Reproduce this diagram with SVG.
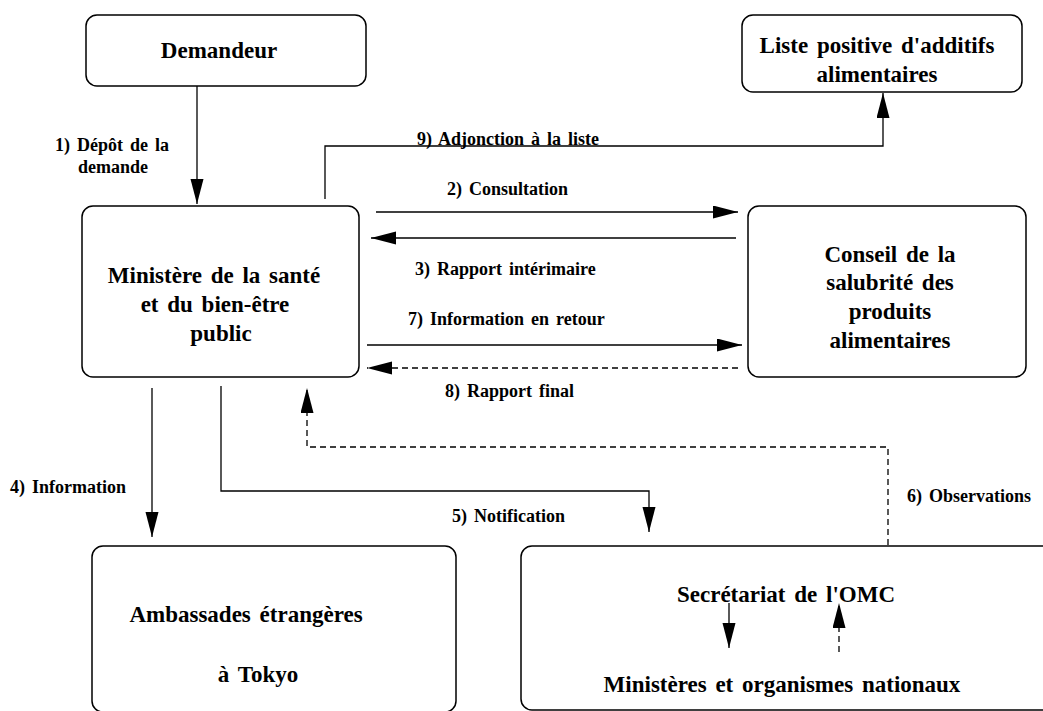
<svg xmlns="http://www.w3.org/2000/svg" width="1043" height="711" viewBox="0 0 1043 711">
<defs>
<style>
.box{fill:#fff;stroke:#000;stroke-width:1.5}
.n{font-family:"Liberation Serif","Times New Roman",serif;font-weight:bold;font-size:23px;word-spacing:3px;fill:#000}
.l{font-family:"Liberation Serif","Times New Roman",serif;font-weight:bold;font-size:18px;word-spacing:2.5px;fill:#000}
.c{fill:none;stroke:#000;stroke-width:1.3}
.d{stroke-dasharray:6,4}
</style>
<marker id="ah" markerUnits="userSpaceOnUse" markerWidth="26" markerHeight="14" refX="25" refY="6.5" orient="auto">
<path d="M0,0 L25,6.5 L0,13 z" fill="#000"/>
</marker>
</defs>
<rect width="1043" height="711" fill="#fff"/>
<g id="demandeur">
<rect class="box" x="86" y="15" width="280" height="71" rx="11"/>
<text class="n" x="219" y="58" text-anchor="middle">Demandeur</text>
</g>
<g id="liste">
<rect class="box" x="742" y="15" width="280" height="77" rx="11"/>
<text class="n" x="877" y="53" text-anchor="middle">Liste positive d'additifs</text>
<text class="n" x="877" y="82" text-anchor="middle">alimentaires</text>
</g>
<g id="ministere">
<rect class="box" x="82" y="206" width="277" height="171" rx="11"/>
<text class="n" x="214" y="283" text-anchor="middle">Ministère de la santé</text>
<text class="n" x="215" y="312" text-anchor="middle">et du bien-être</text>
<text class="n" x="221" y="341" text-anchor="middle">public</text>
</g>
<g id="conseil">
<rect class="box" x="748" y="206" width="278" height="171" rx="11"/>
<text class="n" x="890" y="262" text-anchor="middle">Conseil de la</text>
<text class="n" x="890" y="290" text-anchor="middle">salubrité des</text>
<text class="n" x="890" y="319" text-anchor="middle">produits</text>
<text class="n" x="890" y="348" text-anchor="middle">alimentaires</text>
</g>
<g id="ambassades">
<rect class="box" x="92" y="546" width="364" height="166" rx="11"/>
<text class="n" x="246" y="622" text-anchor="middle">Ambassades étrangères</text>
<text class="n" x="258" y="682" text-anchor="middle">à Tokyo</text>
</g>
<g id="omc">
<rect class="box" x="521" y="546" width="545" height="164" rx="11"/>
<text class="n" x="786" y="602" text-anchor="middle">Secrétariat de l'OMC</text>
<text class="n" x="782" y="692" text-anchor="middle">Ministères et organismes nationaux</text>
</g>
<g id="connectors">
<line class="c" x1="197" y1="86" x2="197" y2="204" marker-end="url(#ah)"/>
<polyline class="c" points="325,199 325,146 883,146 883,93" marker-end="url(#ah)"/>
<line class="c" x1="376" y1="212" x2="738" y2="212" marker-end="url(#ah)"/>
<line class="c" x1="736" y1="238" x2="371" y2="238" marker-end="url(#ah)"/>
<line class="c" x1="367" y1="345" x2="742" y2="345" marker-end="url(#ah)"/>
<line class="c d" x1="738" y1="368" x2="367" y2="368" marker-end="url(#ah)"/>
<line class="c" x1="152" y1="388" x2="152" y2="537" marker-end="url(#ah)"/>
<polyline class="c" points="221,386 221,491 649,491 649,532" marker-end="url(#ah)"/>
<polyline class="c d" points="888,545 888,447 307,447 307,388" marker-end="url(#ah)"/>
<line class="c" x1="729" y1="603" x2="729" y2="648" marker-end="url(#ah)"/>
<line class="c d" x1="839" y1="652" x2="839" y2="603" marker-end="url(#ah)"/>
<text class="l" x="55" y="151">1) Dépôt de la</text>
<text class="l" x="78" y="173">demande</text>
<text class="l" x="417" y="145">9) Adjonction à la liste</text>
<text class="l" x="447" y="195">2) Consultation</text>
<text class="l" x="415" y="275">3) Rapport intérimaire</text>
<text class="l" x="408" y="325">7) Information en retour</text>
<text class="l" x="445" y="397">8) Rapport final</text>
<text class="l" x="10" y="493">4) Information</text>
<text class="l" x="452" y="522">5) Notification</text>
<text class="l" x="907" y="502">6) Observations</text>
</g>
</svg>
